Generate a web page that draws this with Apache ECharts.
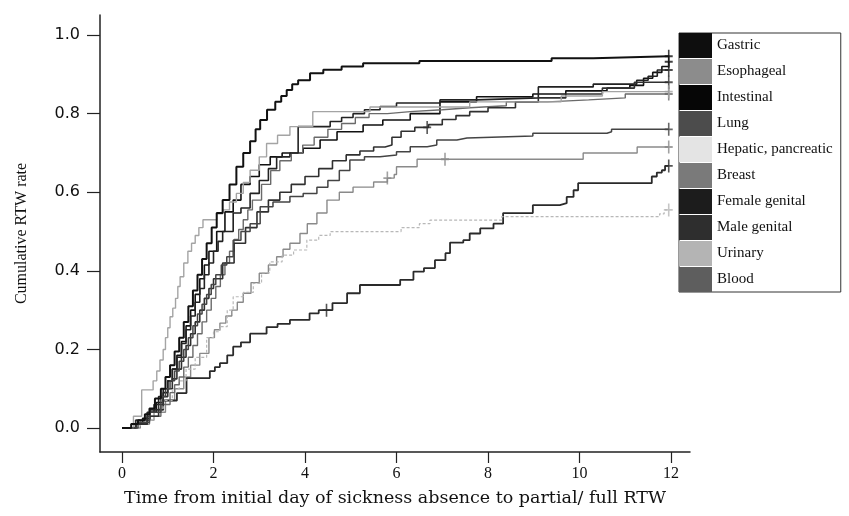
<!DOCTYPE html>
<html>
<head>
<meta charset="utf-8">
<script src="https://cdn.jsdelivr.net/npm/echarts@6/dist/echarts.min.js"></script>
<style>
  html, body { margin: 0; padding: 0; background: #fff; }
  #chart { width: 849px; height: 516px; }
</style>
</head>
<body>
<div id="chart"></div>
<script>
// cumulative RTW curves, one step curve per cancer site
const names = ['Gastric', 'Esophageal', 'Intestinal', 'Lung', 'Hepatic, pancreatic',
  'Breast', 'Female genital', 'Male genital', 'Urinary', 'Blood']

const xTicks = [0, 2, 4, 6, 8, 10, 12]
const yTicks = [0, 0.2, 0.4, 0.6, 0.8, 1.0]

const gastricT = [0, 0.2, 0.35, 0.5, 0.6, 0.72, 0.85, 0.95, 1.05, 1.15, 1.25, 1.35, 1.45, 1.55, 1.65, 1.75, 1.85, 1.96, 2.07, 2.2, 2.35, 2.5, 2.65, 2.8, 2.92, 3.02, 3.17, 3.35, 3.48, 3.6, 3.72, 3.85, 4.11, 4.4, 4.8, 5.27, 6.5, 9.39, 10.3, 11.95]
const gastricV = [0, 0.01, 0.02, 0.035, 0.05, 0.075, 0.10, 0.13, 0.16, 0.195, 0.23, 0.27, 0.31, 0.35, 0.39, 0.43, 0.47, 0.51, 0.547, 0.58, 0.62, 0.665, 0.70, 0.73, 0.76, 0.784, 0.81, 0.83, 0.845, 0.86, 0.875, 0.885, 0.903, 0.912, 0.92, 0.928, 0.934, 0.941, 0.946, 0.946]

const esophagealT = [0, 0.4, 0.7, 0.95, 1.15, 1.35, 1.5, 1.7, 1.9, 2.02, 2.14, 2.27, 2.4, 2.52, 2.65, 2.82, 3.0, 3.2, 3.38, 3.52, 3.67, 3.89, 4.05, 4.26, 4.48, 4.75, 5.05, 5.5, 5.8, 5.95, 6.0, 6.45, 10.08, 11.26, 11.95]
const esophagealV = [0, 0.02, 0.04, 0.07, 0.10, 0.13, 0.16, 0.19, 0.23, 0.25, 0.267, 0.285, 0.30, 0.32, 0.343, 0.37, 0.394, 0.415, 0.436, 0.455, 0.47, 0.495, 0.52, 0.547, 0.58, 0.60, 0.613, 0.626, 0.636, 0.645, 0.665, 0.684, 0.70, 0.715, 0.715]

const intestinalT = [0, 0.3, 0.45, 0.6, 0.75, 0.9, 1.0, 1.1, 1.2, 1.3, 1.4, 1.5, 1.6, 1.7, 1.8, 1.9, 2.07, 2.25, 2.43, 2.6, 2.8, 3.0, 3.24, 3.5, 3.96, 4.33, 4.7, 5.27, 5.7, 6.3, 6.95, 7.75, 8.98, 9.7, 10.6, 11.1, 11.4, 11.6, 11.8, 11.95]
const intestinalV = [0, 0.01, 0.025, 0.04, 0.065, 0.09, 0.12, 0.15, 0.185, 0.22, 0.26, 0.30, 0.34, 0.38, 0.415, 0.45, 0.50, 0.55, 0.58, 0.62, 0.64, 0.67, 0.69, 0.70, 0.712, 0.733, 0.754, 0.771, 0.784, 0.80, 0.83, 0.843, 0.85, 0.858, 0.865, 0.872, 0.89, 0.905, 0.92, 0.932]

const lungT = [0, 0.3, 0.61, 0.9, 1.2, 1.41, 1.92, 2.03, 2.14, 2.3, 2.43, 2.6, 2.8, 3.16, 3.4, 3.67, 4.1, 4.3, 4.6, 4.92, 5.2, 6.08, 6.37, 6.6, 6.84, 7.07, 7.17, 7.46, 7.6, 7.83, 8.12, 8.33, 8.98, 9.57, 9.72, 9.87, 9.97, 11.58, 11.69, 11.8, 11.87, 11.95]
const lungV = [0, 0.02, 0.046, 0.07, 0.089, 0.127, 0.145, 0.155, 0.165, 0.185, 0.207, 0.218, 0.24, 0.257, 0.265, 0.275, 0.292, 0.30, 0.318, 0.343, 0.364, 0.377, 0.398, 0.407, 0.427, 0.445, 0.472, 0.478, 0.495, 0.508, 0.52, 0.547, 0.567, 0.572, 0.588, 0.605, 0.623, 0.64, 0.65, 0.656, 0.667, 0.667]

const hepaticT = [0, 0.4, 0.7, 0.9, 1.1, 1.25, 1.4, 1.6, 1.85, 2.0, 2.14, 2.3, 2.43, 2.65, 2.87, 3.05, 3.23, 3.5, 3.75, 4.04, 4.3, 4.55, 6.1, 6.5, 6.73, 8.3, 11.75, 11.85, 11.95]
const hepaticV = [0, 0.02, 0.05, 0.07, 0.10, 0.12, 0.15, 0.18, 0.23, 0.245, 0.258, 0.30, 0.334, 0.345, 0.368, 0.395, 0.423, 0.44, 0.453, 0.478, 0.49, 0.50, 0.51, 0.52, 0.529, 0.538, 0.545, 0.555, 0.555]

const breastT = [0, 0.3, 0.6, 0.85, 1.05, 1.15, 1.25, 1.35, 1.45, 1.55, 1.65, 1.75, 1.85, 1.95, 2.05, 2.15, 2.25, 2.35, 2.45, 2.55, 2.65, 2.75, 2.85, 3.05, 3.25, 3.45, 3.7, 3.95, 4.2, 4.5, 4.8, 5.1, 5.4, 5.8, 6.3, 7.0, 7.6, 8.4, 9.3, 10.2, 11.0, 11.95]
const breastV = [0, 0.01, 0.03, 0.06, 0.09, 0.11, 0.13, 0.155, 0.18, 0.21, 0.24, 0.27, 0.30, 0.33, 0.36, 0.39, 0.42, 0.45, 0.48, 0.505, 0.53, 0.555, 0.58, 0.62, 0.655, 0.68, 0.70, 0.72, 0.74, 0.76, 0.775, 0.79, 0.80, 0.805, 0.81, 0.815, 0.82, 0.83, 0.835, 0.84, 0.85, 0.85]

const femaleT = [0, 0.3, 0.55, 0.7, 0.8, 0.9, 1.0, 1.1, 1.2, 1.3, 1.4, 1.5, 1.6, 1.7, 1.8, 1.9, 2.0, 2.1, 2.2, 2.43, 2.6, 2.8, 3.0, 3.2, 3.38, 3.67, 3.85, 4.55, 4.8, 5.05, 5.3, 5.64, 6.0, 6.95, 7.75, 9.1, 10.3, 11.25, 11.5, 11.7, 11.95]
const femaleV = [0, 0.01, 0.04, 0.06, 0.08, 0.10, 0.12, 0.15, 0.18, 0.215, 0.25, 0.285, 0.32, 0.355, 0.39, 0.42, 0.45, 0.475, 0.50, 0.547, 0.56, 0.597, 0.63, 0.66, 0.69, 0.70, 0.767, 0.78, 0.79, 0.80, 0.81, 0.818, 0.827, 0.835, 0.84, 0.868, 0.875, 0.885, 0.895, 0.911, 0.911]

const maleT = [0, 0.3, 0.55, 0.8, 0.9, 1.0, 1.1, 1.2, 1.3, 1.4, 1.5, 1.6, 1.7, 1.8, 1.9, 2.0, 2.2, 2.45, 2.7, 2.95, 3.2, 3.45, 3.7, 4.0, 4.3, 4.6, 4.9, 5.2, 5.5, 5.75, 5.9, 6.1, 6.4, 6.7, 7.0, 7.3, 7.6, 8.0, 8.6, 9.1, 9.7, 10.5, 11.2, 11.95]
const maleV = [0, 0.01, 0.03, 0.06, 0.08, 0.10, 0.125, 0.15, 0.18, 0.21, 0.24, 0.27, 0.30, 0.33, 0.355, 0.38, 0.42, 0.47, 0.51, 0.55, 0.58, 0.60, 0.62, 0.64, 0.66, 0.68, 0.695, 0.705, 0.715, 0.72, 0.74, 0.755, 0.765, 0.772, 0.785, 0.795, 0.805, 0.815, 0.83, 0.84, 0.85, 0.865, 0.88, 0.88]

const urinaryT = [0, 0.25, 0.43, 0.68, 0.76, 0.83, 0.9, 0.95, 1.0, 1.05, 1.11, 1.17, 1.22, 1.27, 1.35, 1.44, 1.52, 1.6, 1.68, 1.77, 2.07, 2.2, 2.35, 2.5, 2.65, 2.8, 3.0, 3.16, 3.4, 3.67, 4.17, 5.42, 7.6, 9.6, 10.5, 11.95]
const urinaryV = [0, 0.03, 0.097, 0.12, 0.145, 0.173, 0.20, 0.23, 0.255, 0.283, 0.305, 0.33, 0.36, 0.385, 0.42, 0.45, 0.47, 0.49, 0.51, 0.53, 0.545, 0.555, 0.575, 0.597, 0.625, 0.656, 0.69, 0.724, 0.745, 0.767, 0.805, 0.817, 0.83, 0.845, 0.856, 0.856]

const bloodT = [0, 0.35, 0.6, 0.85, 0.95, 1.05, 1.15, 1.25, 1.35, 1.45, 1.55, 1.65, 1.75, 1.85, 1.95, 2.05, 2.17, 2.29, 2.43, 2.6, 2.8, 3.02, 3.3, 3.67, 3.96, 4.26, 4.5, 4.75, 4.98, 5.3, 5.64, 6.0, 6.3, 6.67, 6.88, 7.32, 7.54, 8.98, 10.6, 10.7, 11.95]
const bloodV = [0, 0.015, 0.04, 0.08, 0.10, 0.12, 0.145, 0.17, 0.20, 0.23, 0.26, 0.29, 0.315, 0.34, 0.365, 0.39, 0.415, 0.436, 0.478, 0.50, 0.52, 0.563, 0.575, 0.589, 0.597, 0.613, 0.63, 0.655, 0.682, 0.69, 0.695, 0.703, 0.716, 0.72, 0.733, 0.738, 0.743, 0.75, 0.754, 0.76, 0.76]

// censoring marks (times)
const censorT = [[11.95], [5.8, 7.06, 11.95], [11.95], [4.47, 11.95], [11.95],
  [11.95], [11.95], [6.67, 11.95], [11.95], [11.95]]

const curves = [
  [gastricT, gastricV], [esophagealT, esophagealV], [intestinalT, intestinalV],
  [lungT, lungV], [hepaticT, hepaticV], [breastT, breastV], [femaleT, femaleV],
  [maleT, maleV], [urinaryT, urinaryV], [bloodT, bloodV]
]

const swatch = ['#0e0e0e', '#8c8c8c', '#060606', '#4c4c4c', '#e4e4e4', '#7a7a7a', '#1c1c1c', '#2e2e2e', '#b4b4b4', '#5e5e5e']
const lineColor = ['#111', '#8a8a8a', '#111', '#2a2a2a', '#b8b8b8', '#6a6a6a', '#222', '#303030', '#a4a4a4', '#444']
const lineWidth = [2, 1.4, 1.6, 1.8, 1.2, 1.4, 1.6, 1.6, 1.4, 1.5]

const stepAt = (ts, vs, t) => {
  let v = 0
  ts.forEach((x, i) => { if (x <= t) v = vs[i] })
  return v
}

const series = []
curves.forEach(([ts, vs], i) => {
  series.push({
    name: names[i],
    type: 'line',
    step: 'end',
    symbol: 'none',
    data: ts.map((t, k) => [t, vs[k]]),
    lineStyle: {
      color: lineColor[i],
      width: lineWidth[i],
      type: i === 4 ? [3, 2] : 'solid'
    },
    itemStyle: { color: swatch[i] },
    z: i === 0 ? 5 : 2
  })
  series.push({
    name: names[i],
    type: 'scatter',
    symbol: 'path://M4,0h2v14h-2z M0,6h10v2h-10z',
    symbolSize: [8, 13],
    data: censorT[i].map(t => [t, stepAt(ts, vs, t)]),
    itemStyle: { color: lineColor[i] },
    z: 3
  })
})

const chart = echarts.init(document.getElementById('chart'), null, { renderer: 'canvas' })
chart.setOption({
  animation: false,
  backgroundColor: '#fff',
  grid: { left: 100, right: 159, top: 15, bottom: 64 },
  legend: {
    orient: 'vertical',
    left: 679,
    top: 33,
    itemWidth: 33,
    itemHeight: 25,
    itemGap: 1,
    padding: [0, 8, 0, 0],
    borderColor: '#333',
    borderWidth: 1,
    selectedMode: false,
    textStyle: { fontFamily: 'Liberation Serif', fontSize: 15, color: '#111' },
    data: names.map((n, i) => ({ name: n, icon: 'rect', itemStyle: { color: swatch[i] } }))
  },
  xAxis: {
    type: 'value',
    min: -0.481,
    max: 12.415,
    name: 'Time from initial day of sickness absence to partial/ full RTW',
    nameLocation: 'middle',
    nameGap: 37,
    nameTextStyle: { fontFamily: 'DejaVu Serif', fontSize: 17.5, color: '#111' },
    axisLine: { onZero: false, lineStyle: { color: '#222', width: 1.5 } },
    axisTick: { customValues: xTicks, length: 11, lineStyle: { color: '#222', width: 1.2 } },
    axisLabel: { customValues: xTicks, margin: 14, fontFamily: 'Liberation Serif', fontSize: 16, color: '#111' },
    splitLine: { show: false }
  },
  yAxis: {
    type: 'value',
    min: -0.061,
    max: 1.051,
    name: 'Cumulative RTW rate',
    nameLocation: 'middle',
    nameGap: 70,
    nameTextStyle: { fontFamily: 'Liberation Serif', fontSize: 16, color: '#111' },
    axisLine: { show: true, onZero: false, lineStyle: { color: '#222', width: 1.5 } },
    axisTick: { show: true, customValues: yTicks, length: 13, lineStyle: { color: '#222', width: 1.2 } },
    axisLabel: {
      customValues: yTicks, margin: 20, fontFamily: 'DejaVu Sans', fontSize: 16, color: '#111',
      formatter: v => v.toFixed(1)
    },
    splitLine: { show: false }
  },
  series
})
</script>
</body>
</html>
